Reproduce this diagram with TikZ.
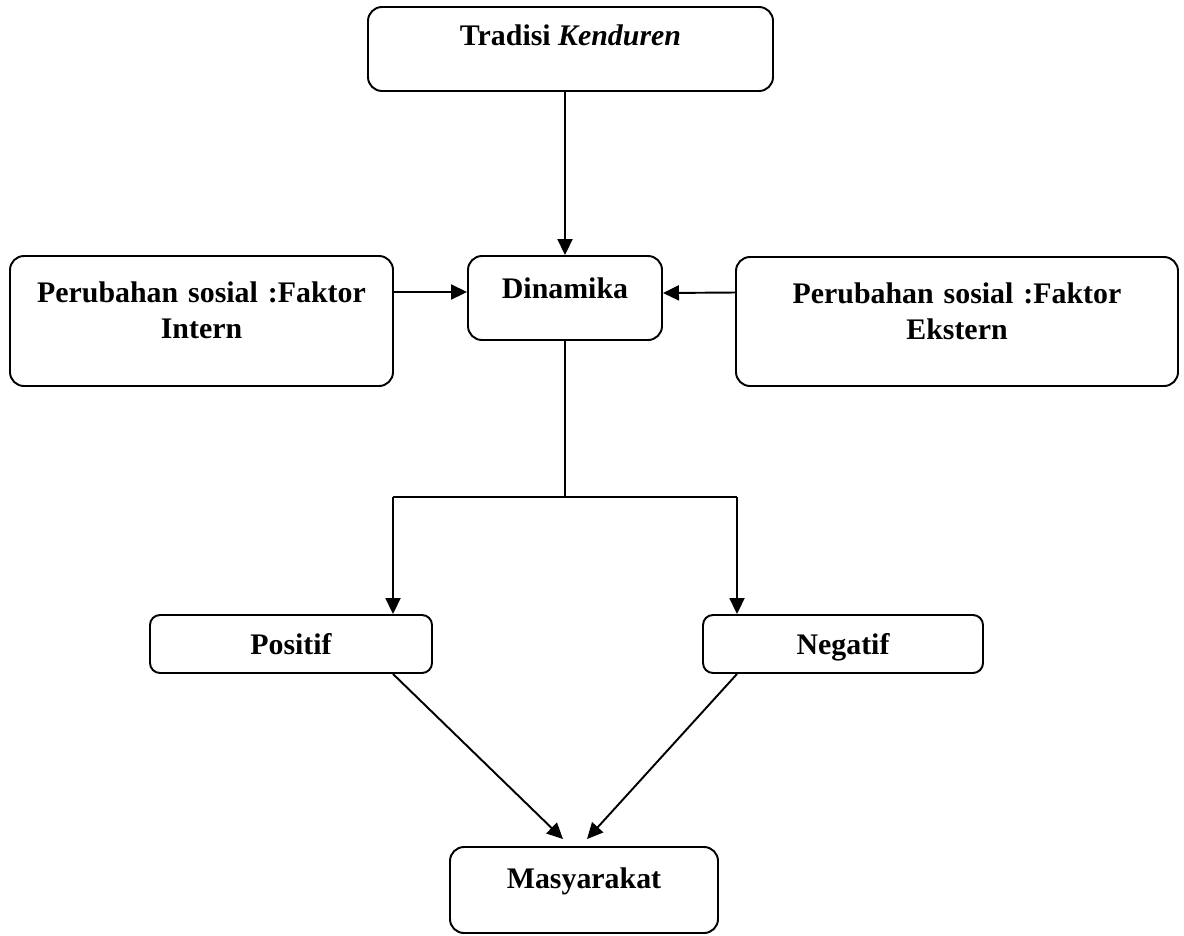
\documentclass[tikz,border=0pt]{standalone}
\usepackage{fontspec}
\setmainfont{Liberation Serif}
\usetikzlibrary{arrows.meta}

\begin{document}
\begin{tikzpicture}[
		box/.style={rectangle, draw, rounded corners=0.28cm, line width=1.1pt, inner xsep=0pt, inner ysep=0pt, font=\fontsize{17}{21}\selectfont\bfseries},
		arr/.style={-{Triangle[length=0.32cm, width=0.3cm]}, line width=1.1pt}
	]
		\useasboundingbox (0,0) rectangle (23.68,-18.70);
		
		\node[box, minimum width=8.10cm, text height=0.76cm, text depth=0.92cm] (tradisi) at (11.41,-0.98) {Tradisi \textit{Kenduren}};
		\node[box, minimum width=3.88cm, text height=0.84cm, text depth=0.84cm] (dinamika) at (11.30,-5.96) {Dinamika};
		\node[box, text width=7.66cm, align=center, text height=0.92cm, text depth=1.68cm] (intern) at (4.03,-6.42) {Perubahan sosial :Faktor\\Intern};
		\node[box, text width=8.84cm, align=center, text height=0.92cm, text depth=1.66cm] (ekstern) at (19.14,-6.43) {Perubahan sosial :Faktor\\Ekstern};
		\node[box, rounded corners=0.2cm, minimum width=5.64cm, text height=0.78cm, text depth=0.38cm] (positif) at (5.82,-12.88) {Positif};
		\node[box, rounded corners=0.2cm, minimum width=5.60cm, text height=0.78cm, text depth=0.38cm] (negatif) at (16.86,-12.88) {Negatif};
		\node[box, minimum width=5.36cm, text height=0.82cm, text depth=0.90cm] (masyarakat) at (11.68,-17.80) {Masyarakat};
		
		\coordinate (mid) at (11.30,-9.94);
		\coordinate (lft) at (7.86,-9.94);
		\coordinate (rgt) at (14.74,-9.94);
		
		\draw[arr] (tradisi.south -| dinamika.north) -- (dinamika.north);
		\draw[arr] ([yshift=0.58cm]intern.east) -- ([yshift=0.12cm]dinamika.west);
		\draw[arr] ([yshift=0.58cm]ekstern.west) -- ([yshift=0.1cm]dinamika.east);
		
		\draw[line width=1.1pt] (dinamika.south) -- (mid);
		\draw[line width=1.1pt] (lft) -- (rgt);
		\draw[arr] (lft) -- (lft |- positif.north);
		\draw[arr] (rgt) -- (rgt |- negatif.north);
		
		\draw[arr] (lft |- positif.south) -- ([xshift=-0.42cm, yshift=0.14cm]masyarakat.north);
		\draw[arr] (rgt |- negatif.south) -- ([xshift=0.06cm, yshift=0.14cm]masyarakat.north);
		
	\end{tikzpicture}
\end{document}
